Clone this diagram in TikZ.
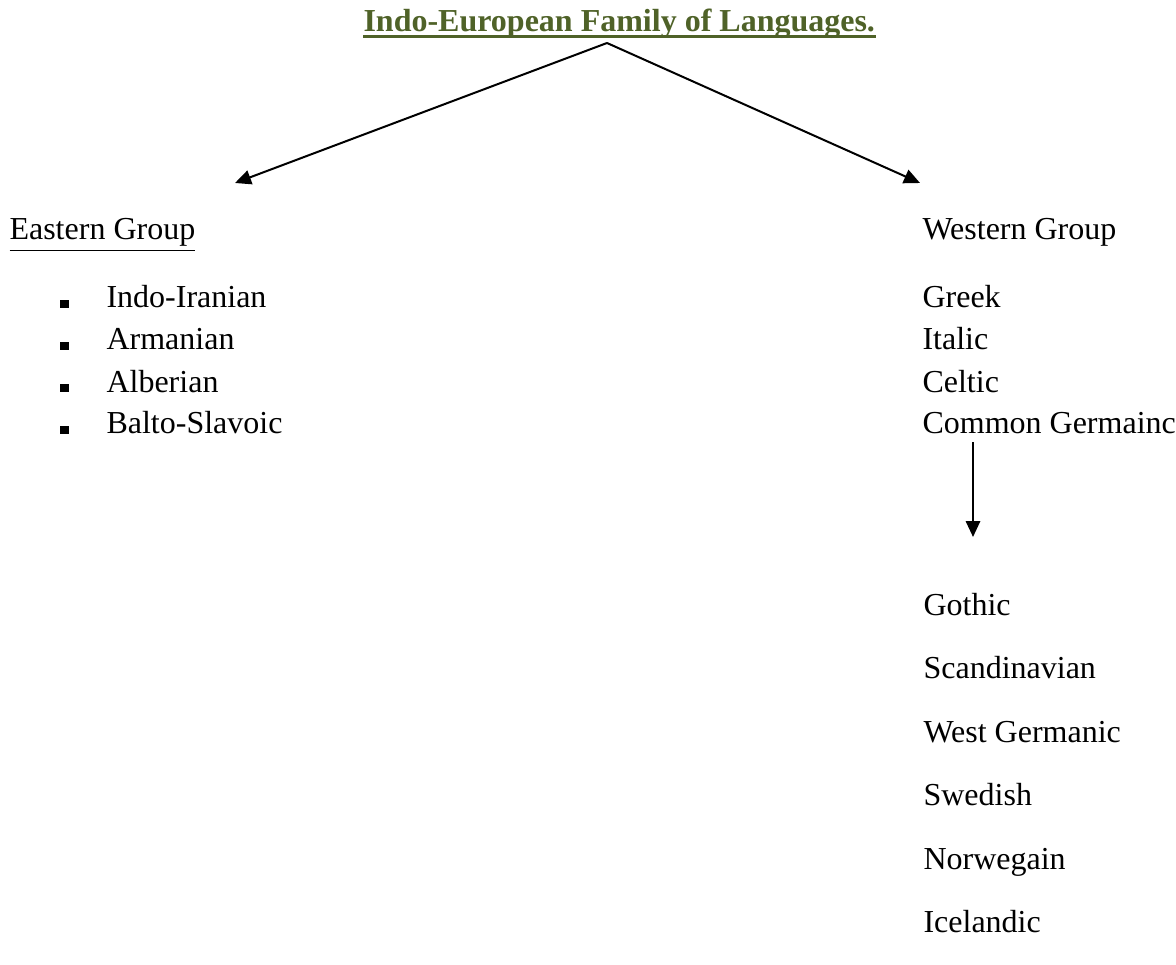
\documentclass[tikz,border=0pt]{standalone}
\usepackage{fontspec}
\setmainfont{Liberation Serif}
\usepackage{xcolor}
\usetikzlibrary{arrows.meta,positioning}
\definecolor{olivo}{HTML}{4F6228}
\tikzset{
  txt/.style={anchor=base west,inner sep=0pt,font=\fontsize{12pt}{14pt}\selectfont},
  vineta/.style={fill=black,inner sep=0pt,minimum size=3.3pt},
  flecha/.style={-{Triangle[length=6pt,width=5.4pt]},line width=0.75pt}
}
\begin{document}
\begin{tikzpicture}[x=0.375pt,y=-0.375pt]
\useasboundingbox (0,0) rectangle (1176,965);
% title
\node[txt,font=\fontsize{12pt}{14pt}\selectfont\bfseries,text=olivo] (ttl) at (363,32) {Indo-European Family of Languages.};
\draw[olivo,line width=1.1pt] ([yshift=-1.6pt]ttl.base west)--([yshift=-1.6pt]ttl.base east);
\coordinate (apex) at (607,43);
\coordinate (eastTip) at (235,183);
\coordinate (westTip) at (920,183);
\draw[flecha] (apex)--(eastTip);
\draw[flecha] (apex)--(westTip);
% eastern group
\node[txt] (east) at (9,240) {\underline{Eastern Group}};
\node[txt] (e1) at (106,308) {Indo-Iranian};
\node[txt] (e2) at (106,350) {Armanian};
\node[txt] (e3) at (106,392) {Alberian};
\node[txt] (e4) at (106,434) {Balto-Slavoic};
\foreach \y in {308,350,392,434} \node[vineta] at (64.5,\y-4) {};
% western group
\node[txt] (west) at (922,240) {Western Group};
\node[txt] (w1) at (922,308) {Greek};
\node[txt] (w2) at (922,350) {Italic};
\node[txt] (w3) at (922,392) {Celtic};
\node[txt] (w4) at (922,434) {Common Germainc};
\coordinate (germTop) at (973,442);
\coordinate (germTip) at (973,537);
\draw[flecha] (germTop)--(germTip);
\node[txt] (g1) at (923,615) {Gothic};
\node[txt] (g2) at (923,678) {Scandinavian};
\node[txt] (g3) at (923,742) {West Germanic};
\node[txt] (g4) at (923,805) {Swedish};
\node[txt] (g5) at (923,869) {Norwegain};
\node[txt] (g6) at (923,932) {Icelandic};
\end{tikzpicture}
\end{document}
